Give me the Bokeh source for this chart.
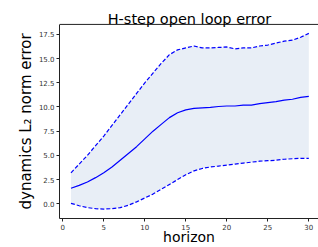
from bokeh.plotting import figure
from bokeh.models import Range1d, Label, FixedTicker, PrintfTickFormatter, Span
from bokeh.embed import file_html
from bokeh.resources import INLINE

horizon = list(range(1, 31))
mean_err = [1.6, 1.9, 2.25, 2.7, 3.2, 3.8, 4.5, 5.2, 5.9, 6.7, 7.5, 8.2, 8.9, 9.4, 9.7,
            9.85, 9.9, 9.95, 10.05, 10.1, 10.1, 10.2, 10.2, 10.35, 10.45, 10.55, 10.7, 10.8, 11.0, 11.1]
upper_err = [3.2, 4.1, 5.0, 6.0, 7.0, 8.1, 9.2, 10.3, 11.4, 12.5, 13.5, 14.5, 15.4, 15.9, 16.1,
             16.3, 16.1, 16.1, 16.15, 16.2, 16.0, 16.1, 16.1, 16.3, 16.4, 16.6, 16.8, 16.9, 17.2, 17.6]
lower_err = [0.05, -0.2, -0.4, -0.5, -0.55, -0.5, -0.4, -0.15, 0.2, 0.6, 1.0, 1.5, 2.0, 2.5, 3.0,
             3.4, 3.65, 3.8, 3.9, 4.0, 4.1, 4.2, 4.3, 4.4, 4.45, 4.5, 4.6, 4.65, 4.7, 4.7]
x_ticks = [0, 5, 10, 15, 20, 25, 30]
y_ticks = [0.0, 2.5, 5.0, 7.5, 10.0, 12.5, 15.0, 17.5]
title_text = "H-step open loop error"

FONT = "DejaVu Sans"
Y_LO, Y_HI = -1.52, 18.53   # axes box limits (data units)

p = figure(width=318, height=247, output_backend="svg", toolbar_location=None,
           x_range=Range1d(-0.4, 31.18), y_range=Range1d(Y_LO, 21.0),
           min_border_left=59, min_border_top=0, min_border_bottom=29, min_border_right=0)
p.outline_line_color = None
p.grid.visible = False
p.background_fill_color = "white"

p.varea(x=horizon, y1=lower_err, y2=upper_err, fill_color="#e8eef6", fill_alpha=1.0)
p.line(horizon, mean_err, line_color="#0000ff", line_width=1.2)
p.line(horizon, upper_err, line_color="#0000ff", line_width=1.2, line_dash="4 2")
p.line(horizon, lower_err, line_color="#0000ff", line_width=1.2, line_dash="4 2")

for ax in (p.xaxis[0], p.yaxis[0]):
    ax.axis_line_color = "#222222"
    ax.axis_line_width = 1
    ax.major_tick_line_color = "#222222"
    ax.major_tick_in = 0
    ax.major_tick_out = 3
    ax.minor_tick_line_color = None
    ax.major_label_text_font = FONT
    ax.major_label_text_font_size = "7px"
    ax.major_label_text_color = "#333333"
    ax.axis_label_text_font = FONT
    ax.axis_label_text_font_style = "normal"
    ax.axis_label_text_color = "black"

p.xaxis[0].ticker = FixedTicker(ticks=x_ticks)
p.xaxis[0].major_label_standoff = 2
p.xaxis[0].axis_label = "horizon"
p.xaxis[0].axis_label_text_font_size = "14px"
p.xaxis[0].axis_label_standoff = -4

p.yaxis[0].ticker = FixedTicker(ticks=y_ticks)
p.yaxis[0].formatter = PrintfTickFormatter(format="%.1f")
p.yaxis[0].major_label_standoff = 2
# trailing no-break spaces keep the label centred on the axes box, not the taller frame
p.yaxis[0].axis_label = "dynamics L\u2082 norm error" + "\u00a0" * 5
p.yaxis[0].axis_label_text_font_size = "15px"
p.yaxis[0].axis_label_standoff = 1
p.yaxis[0].bounds = (Y_LO, Y_HI)

p.add_layout(Span(location=Y_HI, dimension="width", line_color="#222222", line_width=1))

p.add_layout(Label(x=15.45, y=19.05, text=title_text, text_font=FONT,
                   text_font_size="14.5px", text_align="center",
                   text_baseline="alphabetic", text_color="black"))

open("out.html", "w").write(file_html(p, INLINE))
